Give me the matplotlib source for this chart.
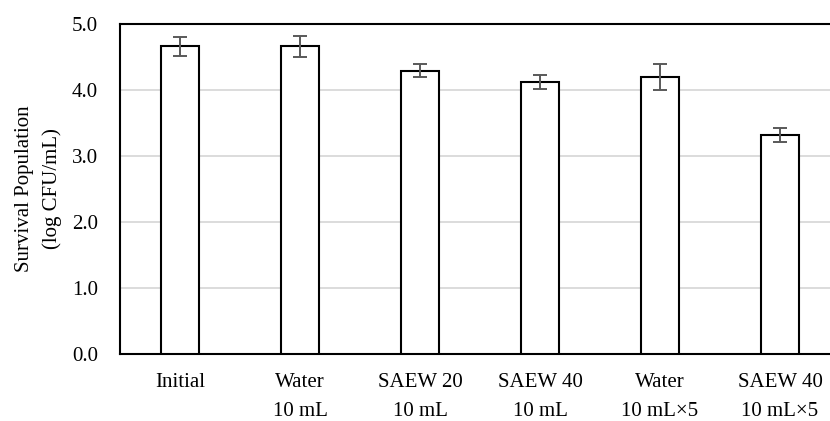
import numpy as np
import matplotlib
matplotlib.use('Agg')
import matplotlib.pyplot as plt

labels = ['Initial', 'Water\n10 mL', 'SAEW 20\n10 mL', 'SAEW 40\n10 mL',
          'Water\n10 mL\u00d75', 'SAEW 40\n10 mL\u00d75']
means = [4.66, 4.66, 4.29, 4.12, 4.20, 3.32]
errs = [0.14, 0.16, 0.10, 0.11, 0.20, 0.11]
yticks = [0.0, 1.0, 2.0, 3.0, 4.0, 5.0]

plt.rcParams['font.family'] = 'Liberation Serif'
plt.rcParams['font.size'] = 15

fig = plt.figure(figsize=(8.3, 4.21), dpi=100)
# plot area runs past the right edge of the figure, as in the original
ax = fig.add_axes([120 / 830, 67 / 421, 720 / 830, 330 / 421])

x = np.arange(len(labels))
ax.bar(x, means, width=0.317, color='white', edgecolor='black', linewidth=1.5, zorder=3)
ax.errorbar(x, means, yerr=errs, fmt='none', ecolor='#595959', elinewidth=1.4,
            capsize=5, capthick=1.4, zorder=4)

ax.set_xlim(-0.5, len(labels) - 0.5)
ax.set_ylim(0, 5)
ax.set_yticks(yticks)
ax.set_yticklabels(['%.1f' % v for v in yticks])
ax.set_xticks(x)
ax.set_xticklabels(labels, linespacing=1.65, va='top')
ax.tick_params(axis='both', length=0)
ax.tick_params(axis='y', pad=16)
ax.tick_params(axis='x', pad=14)
ax.yaxis.grid(True, color='#d9d9d9', linewidth=1.3, zorder=0)
ax.set_axisbelow(True)
for s in ['left', 'bottom', 'top', 'right']:
    ax.spines[s].set_linewidth(1.5)
ax.set_ylabel('Survival Population\n(log CFU/mL)', linespacing=1.55, labelpad=7)

fig.savefig('out.png', dpi=100)
